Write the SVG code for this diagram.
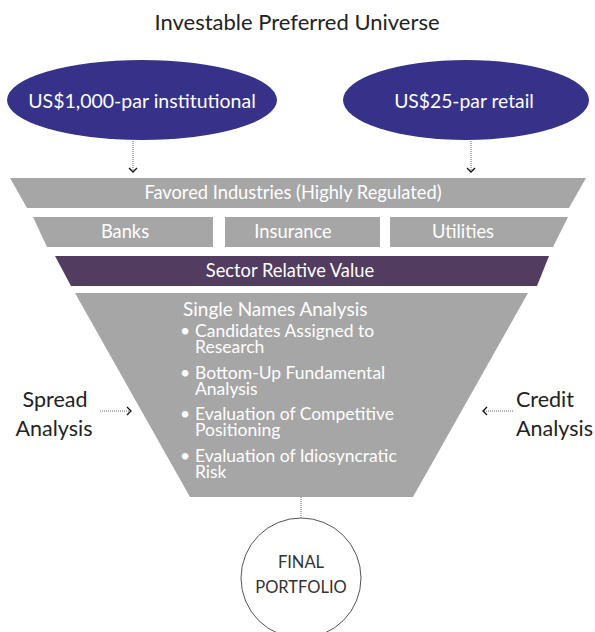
<svg xmlns="http://www.w3.org/2000/svg" width="595" height="632" viewBox="0 0 595 632">
<style>
text{font-family:Lato,"Noto Sans",sans-serif;}
.w{fill:#ffffff;}
.k{fill:#222222;}
.band{fill:#a6a6a6;}
.oval{fill:#36328a;}
.dot{stroke:#666;stroke-width:1;stroke-dasharray:1 1;fill:none;}
.chev{stroke:#111;stroke-width:1.3;fill:none;}
.lbl{font-size:18.3px;}
.bul{font-size:17.5px;}
</style>
<rect width="595" height="632" fill="#ffffff"/>
<text x="297" y="30" font-size="22" text-anchor="middle" class="k">Investable Preferred Universe</text>
<g id="inst">
<ellipse cx="142" cy="100" rx="135" ry="40" class="oval"/>
<text x="142" y="108" font-size="19.5" text-anchor="middle" class="w">US$1,000-par institutional</text>
</g>
<g id="retail">
<ellipse cx="466" cy="100" rx="123" ry="40" class="oval"/>
<text x="464" y="108" font-size="19.3" text-anchor="middle" class="w">US$25-par retail</text>
</g>
<g id="favored">
<polygon points="10,178 586,178 569,208 27,208" class="band"/>
<text x="293" y="199" text-anchor="middle" class="w lbl">Favored Industries (Highly Regulated)</text>
</g>
<g id="banks">
<polygon points="33,217 213,217 213,247 47,247" class="band"/>
<text x="125" y="238" text-anchor="middle" class="w lbl">Banks</text>
</g>
<g id="insurance">
<rect x="225" y="217" width="155" height="30" class="band"/>
<text x="293" y="238" text-anchor="middle" class="w lbl">Insurance</text>
</g>
<g id="utilities">
<polygon points="390,217 568,217 553,247 390,247" class="band"/>
<text x="463" y="238" text-anchor="middle" class="w lbl">Utilities</text>
</g>
<g id="sector">
<polygon points="55,256 549,256 537,286 71,286" fill="#523c60"/>
<text x="290" y="277" text-anchor="middle" class="w lbl">Sector Relative Value</text>
</g>
<g id="single">
<polygon points="75,293 528,293 413,497 190,497" class="band"/>
<text x="183" y="316" font-size="19" class="w">Single Names Analysis</text>
<g class="w bul">
<text x="180" y="337">•</text>
<text x="195" y="337">Candidates Assigned to</text>
<text x="195" y="353">Research</text>
<text x="180" y="379">•</text>
<text x="195" y="379">Bottom-Up Fundamental</text>
<text x="195" y="395">Analysis</text>
<text x="180" y="420">•</text>
<text x="195" y="420">Evaluation of Competitive</text>
<text x="195" y="436">Positioning</text>
<text x="180" y="462">•</text>
<text x="195" y="462">Evaluation of Idiosyncratic</text>
<text x="195" y="478">Risk</text>
</g>
</g>
<g id="spread">
<text x="55" y="407" font-size="21.5" text-anchor="middle" class="k">Spread</text>
<text x="54" y="436" font-size="21.5" text-anchor="middle" class="k">Analysis</text>
</g>
<g id="credit">
<text x="516" y="407" font-size="21.5" class="k">Credit</text>
<text x="516" y="436" font-size="21.5" class="k">Analysis</text>
</g>
<g id="final">
<circle cx="301" cy="578" r="60" fill="#ffffff" stroke="#555" stroke-width="1"/>
<text x="301" y="568" font-size="16.5" text-anchor="middle" fill="#333">FINAL</text>
<text x="301" y="593" font-size="16.5" text-anchor="middle" fill="#333">PORTFOLIO</text>
</g>
<g id="connectors">
<line x1="133" y1="141" x2="133" y2="171" class="dot"/>
<polyline points="129,168 133,172 137,168" class="chev"/>
<line x1="471" y1="141" x2="471" y2="171" class="dot"/>
<polyline points="467,168 471,172 475,168" class="chev"/>
<line x1="100" y1="411" x2="130" y2="411" class="dot"/>
<polyline points="127,407 131,411 127,415" class="chev"/>
<line x1="484" y1="411" x2="513" y2="411" class="dot"/>
<polyline points="487,407 483,411 487,415" class="chev"/>
<line x1="301" y1="497" x2="301" y2="518" class="dot"/>
</g>
</svg>
